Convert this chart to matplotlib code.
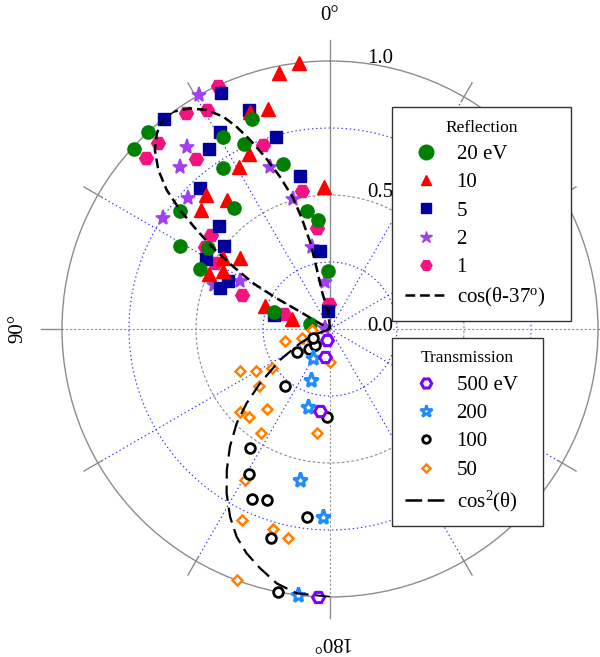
import numpy as np
import matplotlib
matplotlib.use('Agg')
import matplotlib.pyplot as plt
from matplotlib.lines import Line2D
from matplotlib.transforms import offset_copy

plt.rcParams['font.family'] = ['Liberation Serif', 'DejaVu Serif']
plt.rcParams['mathtext.fontset'] = 'custom'
plt.rcParams['mathtext.rm'] = 'Liberation Serif'
plt.rcParams['mathtext.it'] = 'Liberation Serif:italic'
plt.rcParams['lines.scale_dashes'] = False

# ---------------- data (theta in degrees, r normalised) ----------------
# Reflection
refl_20_theta = [42.8, 47.3, 20.3, 29.2, 24.9, 33.6, 15.9, 51.7, 38.4, 11.2, 6.5, 61.0, 56.4, 65.2, 2.3, 72.9, 74.6]
refl_20_r     = [1.00, 0.993, 0.834, 0.821, 0.761, 0.723, 0.64, 0.713, 0.578, 0.449, 0.41, 0.64, 0.545, 0.533, 0.217, 0.219, 0.077]

refl_10_theta = [6.7, 11.3, 15.7, 20.2, 24.8, 29.3, 2.4, 42.7, 38.4, 47.3, 56.5, 51.9, 65.3, 61.4, 70.5, 75.3]
refl_10_r     = [1.0, 0.975, 0.854, 0.861, 0.719, 0.694, 0.532, 0.68, 0.616, 0.655, 0.478, 0.427, 0.495, 0.453, 0.257, 0.147]

refl_5_theta = [24.8, 38.3, 20.3, 29.2, 15.8, 33.8, 11.2, 42.6, 47.1, 7.0, 52.0, 60.6, 65.0, 69.6, 4.9, 76.0]
refl_5_r     = [0.97, 1.0, 0.872, 0.843, 0.744, 0.81, 0.583, 0.714, 0.565, 0.292, 0.502, 0.531, 0.42, 0.438, 0.066, 0.215]

refl_2_theta = [29.3, 38.2, 42.7, 20.4, 47.3, 56.3, 15.9, 12.4, 6.4, 69.2, 61.8, 80.0]
refl_2_r     = [1.0, 0.862, 0.824, 0.644, 0.719, 0.747, 0.504, 0.313, 0.178, 0.463, 0.379, 0.02]

refl_1_theta = [24.8, 29.2, 33.7, 42.7, 47.2, 38.2, 20.1, 11.5, 7.1, 51.8, 56.6, 60.3, 69.1, 2.9, 72.5]
refl_1_r     = [1.0, 0.938, 0.968, 0.945, 0.937, 0.806, 0.731, 0.525, 0.38, 0.567, 0.558, 0.496, 0.351, 0.095, 0.18]

# Transmission
tran_500_theta = [165.0, 170.0, 173.0, 177.4]
tran_500_r     = [0.043, 0.106, 0.308, 1.0]

tran_200_theta = [149.6, 159.6, 164.2, 168.8, 177.9, 173.2]
tran_200_r     = [0.125, 0.203, 0.302, 0.575, 0.702, 1.0]

tran_100_theta = [124.9, 133.6, 136.8, 118.0, 141.7, 178.0, 146.1, 150.8, 155.4, 159.8, 173.0, 164.2, 168.9]
tran_100_r     = [0.15, 0.108, 0.082, 0.072, 0.271, 0.328, 0.535, 0.62, 0.698, 0.68, 0.707, 0.81, 1.0]

tran_50_theta = [105.0, 108.0, 179.5, 115.0, 119.6, 123.9, 128.8, 141.8, 132.7, 137.4, 146.4, 172.9, 150.6, 155.3, 164.1, 168.6, 159.7, 93.0]
tran_50_r     = [0.174, 0.11, 0.123, 0.371, 0.318, 0.261, 0.34, 0.38, 0.457, 0.446, 0.466, 0.391, 0.647, 0.785, 0.776, 0.795, 1.0, 0.067]

# Model curves
fit_refl_theta = [0, 6.0, 12.0, 12.4, 12.9, 14.3, 15.7, 18.2, 20.7, 22.9, 24.8, 26.7, 29.4, 32.4, 35.8, 38.8,
                  41.5, 44.4, 47.2, 49.6, 51.6, 53.4, 55.3, 57.2, 59.2, 60.1, 60.0, 61.2, 62.0]
fit_refl_r     = [0, 0.06, 0.14, 0.232, 0.334, 0.426, 0.507, 0.598, 0.687, 0.766, 0.831, 0.887, 0.938, 0.975, 1.0, 1.0,
                  0.975, 0.934, 0.873, 0.8, 0.714, 0.62, 0.529, 0.429, 0.333, 0.23, 0.129, 0.057, 0]

fit_tran_theta = [90, 109.8, 115.5, 121.8, 127.8, 131.7, 135.3, 139.6, 143.8, 147.8, 152.0, 155.8, 159.6, 163.7, 168.2, 172.8, 180.0]
fit_tran_r     = [0, 0.066, 0.124, 0.22, 0.33, 0.417, 0.495, 0.576, 0.652, 0.724, 0.794, 0.85, 0.893, 0.93, 0.97, 0.994, 1.0]

refl_labels = ['20 eV', '10', '5', '2', '1', r'cos(θ-37$^{\mathrm{o}}$)']
tran_labels = ['500 eV', '200', '100', '50', r'cos$^{2}$(θ)']

# ---------------- figure ----------------
W, H = 600, 657
fig = plt.figure(figsize=(W / 100, H / 100), dpi=100)
fig.patch.set_facecolor('white')
ax = fig.add_axes([62 / W, 60 / H, 536 / W, 536 / H], projection='polar')
ax.set_theta_zero_location('N')
ax.set_theta_direction(1)
ax.set_ylim(0, 1)
ax.grid(False)
ax.set_xticks([])
ax.set_yticks([])
ax.spines['polar'].set_color('#8c8c8c')
ax.spines['polar'].set_linewidth(1.0)

d = np.deg2rad
gray = '#8c8c8c'
gblue = '#2a2aff'

# grid circles
tt = np.linspace(0, 2 * np.pi, 721)
for rr in (0.25, 0.75):
    ax.plot(tt, np.full_like(tt, rr), color=gblue, lw=0.8, ls=(0, (1.0, 2.0)), zorder=1)
ax.plot(tt, np.full_like(tt, 0.5), color=gray, lw=0.8, ls=(0, (2.0, 1.5)), zorder=1)

# radial grid lines
for a in (30, 60, 120, 150, 210, 240, 300, 330):
    ax.plot([d(a), d(a)], [0, 1], color=gblue, lw=0.8, ls=(0, (1.0, 2.0)), zorder=1)
for a in (90, 180, 270):
    ax.plot([d(a), d(a)], [0, 1], color=gray, lw=0.8, ls=(0, (1.5, 1.5)), zorder=1)
ax.plot([0, 0], [0, 1.08], color=gray, lw=1.0, zorder=1, clip_on=False)
for a in (90, 180, 270):
    ax.plot([d(a), d(a)], [1.0, 1.08], color=gray, lw=1.0, zorder=1, clip_on=False)
for a in (30, 60, 120, 150, 210, 240, 300, 330):
    ax.plot([d(a), d(a)], [0.98, 1.06], color=gray, lw=1.0, zorder=1, clip_on=False)

# angle labels
ax.text(0, 1.17, '0°', ha='center', va='center', fontsize=15, rotation=0)
ax.text(d(90), 1.165, '90°', ha='center', va='center', fontsize=15, rotation=90)
ax.text(d(180), 1.165, '180°', ha='center', va='center', fontsize=15, rotation=180)

# radial labels
tr = offset_copy(ax.transData, fig=fig, x=37, y=-2, units='dots')
for rv, s in ((1.0, '1.0'), (0.5, '0.5'), (0.0, '0.0')):
    ax.text(0, rv, s, transform=tr, ha='left', va='baseline', fontsize=15, zorder=3)

# colours
c20, c10, c5, c2, c1 = '#008000', '#ff0000', '#00009c', '#a040f0', '#f5147f'
c500, c200, c100, c50 = '#8000ff', '#1e8cff', '#000000', '#ff8000'

# reflection data
ax.plot(d(np.array(refl_1_theta)), refl_1_r, ls='none', marker='H', ms=10, mfc=c1, mec=c1, zorder=4, clip_on=False)
ax.plot(d(np.array(refl_2_theta)), refl_2_r, ls='none', marker='*', ms=11, mfc=c2, mec=c2, mew=1.2, zorder=4, clip_on=False)
ax.plot(d(np.array(refl_5_theta)), refl_5_r, ls='none', marker='s', ms=8.2, mfc=c5, mec=c5, zorder=4, clip_on=False)
ax.plot(d(np.array(refl_10_theta)), refl_10_r, ls='none', marker='^', ms=10, mfc=c10, mec=c10, zorder=4, clip_on=False)
ax.plot(d(np.array(refl_20_theta)), refl_20_r, ls='none', marker='o', ms=9.5, mfc=c20, mec=c20, zorder=4, clip_on=False)

# transmission data
ax.plot(d(np.array(tran_50_theta)), tran_50_r, ls='none', marker='D', ms=4.8, mfc='white', mec=c50, mew=1.8, zorder=4, clip_on=False)
ax.plot(d(np.array(tran_100_theta)), tran_100_r, ls='none', marker='o', ms=7.0, mfc='white', mec=c100, mew=2.0, zorder=4, clip_on=False)
ax.plot(d(np.array(tran_200_theta)), tran_200_r, ls='none', marker='*', ms=11, mfc='white', mec=c200, mew=2.2, zorder=4, clip_on=False)
ax.plot(d(np.array(tran_500_theta)), tran_500_r, ls='none', marker='H', ms=8.5, mfc='white', mec=c500, mew=2.2, zorder=4, clip_on=False)

# model curves
refl_dash = (0, (7.0, 3.5))
tran_dash = (0, (11.0, 5.0))
ax.plot(d(np.array(fit_refl_theta)), fit_refl_r, color='black', lw=1.8, ls=refl_dash, zorder=5)
ax.plot(d(np.array(fit_tran_theta)), fit_tran_r, color='black', lw=1.6, ls=tran_dash, zorder=5)

# legends
h_refl = [Line2D([], [], ls='none', marker='o', ms=10.5, mfc=c20, mec=c20),
          Line2D([], [], ls='none', marker='^', ms=7.5, mfc=c10, mec=c10),
          Line2D([], [], ls='none', marker='s', ms=7, mfc=c5, mec=c5),
          Line2D([], [], ls='none', marker='*', ms=9, mfc=c2, mec=c2),
          Line2D([], [], ls='none', marker='H', ms=8, mfc=c1, mec=c1),
          Line2D([], [], color='black', lw=1.8, ls=(0, (7.0, 3.5)))]
h_tran = [Line2D([], [], ls='none', marker='H', ms=7.5, mfc='white', mec=c500, mew=2.2),
          Line2D([], [], ls='none', marker='*', ms=9, mfc='white', mec=c200, mew=2.0),
          Line2D([], [], ls='none', marker='o', ms=5.5, mfc='white', mec=c100, mew=2.0),
          Line2D([], [], ls='none', marker='D', ms=4, mfc='white', mec=c50, mew=1.8),
          Line2D([], [], color='black', lw=1.8, ls=(0, (12.0, 4.0)))]

common = dict(loc='upper left', bbox_transform=fig.transFigure, mode='expand', borderaxespad=0,
              fontsize=15, title_fontsize=12.5, frameon=True, fancybox=False, framealpha=1,
              edgecolor='#333333', handlelength=2.05, handletextpad=0.45, borderpad=0.6,
              labelspacing=0.42, numpoints=1)
leg1 = fig.legend(h_refl, refl_labels, title='Reflection',
                  bbox_to_anchor=(392 / W, 1 - 107 / H, (571 - 392) / W, 0), **common)
leg2 = fig.legend(h_tran, tran_labels, title='Transmission',
                  bbox_to_anchor=(392 / W, 1 - 338 / H, (543 - 392) / W, 0), **common)
for lg in (leg1, leg2):
    lg.get_frame().set_linewidth(1.0)
    lg.set_zorder(10)

fig.savefig('out.png', dpi=100, facecolor='white')
